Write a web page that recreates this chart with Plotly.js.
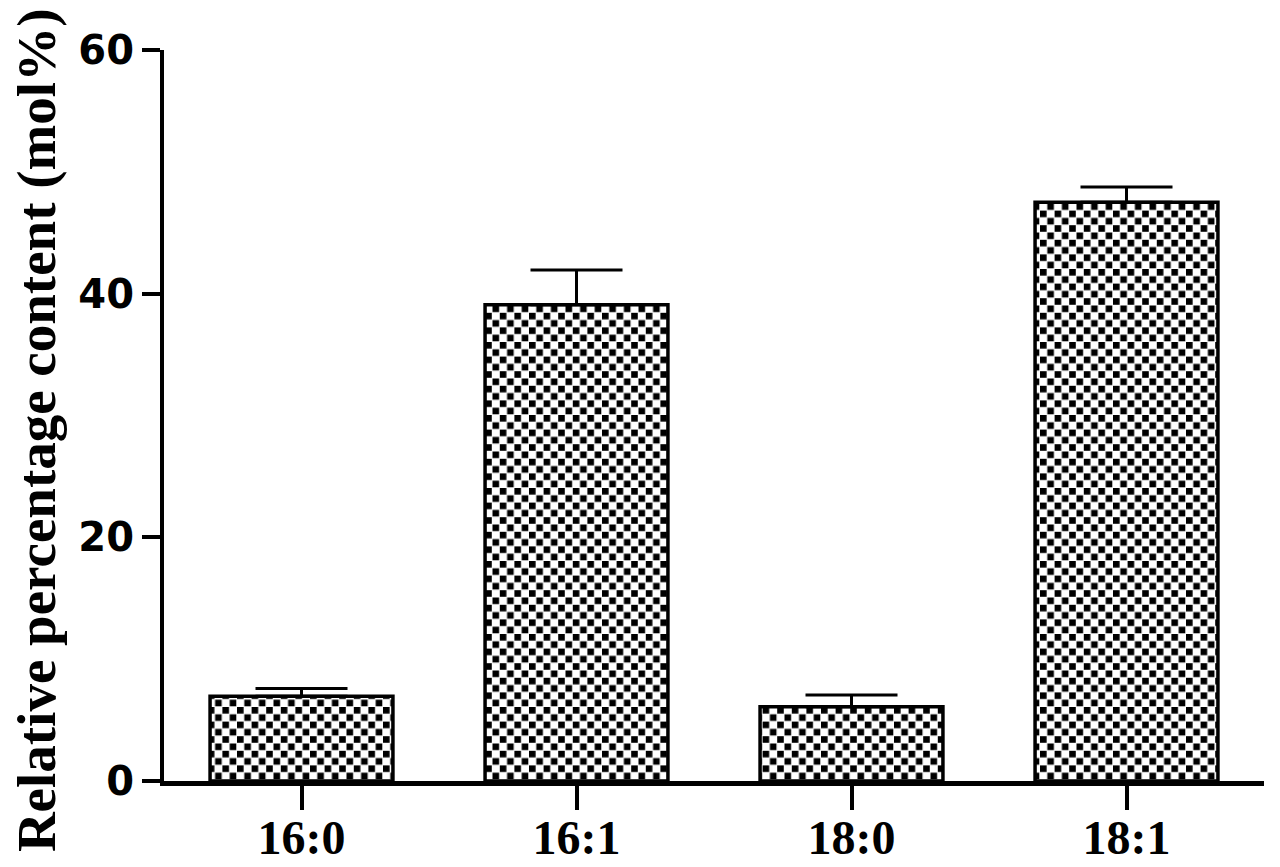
<!DOCTYPE html>
<html>
<head>
<meta charset="utf-8">
<script src="https://cdn.plot.ly/plotly-3.0.1.min.js"></script>
<style>html,body{margin:0;padding:0;background:#fff;}#chart{width:1280px;height:867px;}</style>
</head>
<body>
<div id="chart"></div>
<script>
const categories = ["16:0", "16:1", "18:0", "18:1"];
const values = [6.95, 39.1, 6.1, 47.5];
const errors = [0.65, 2.85, 0.95, 1.25];
const yTicks = [0, 20, 40, 60];
const yTitle = "Relative percentage content (mol%)";

const trace = {
  type: "bar",
  x: categories,
  y: values,
  marker: { color: "#ffffff", line: { color: "#000000", width: 3.5 } },
  error_y: {
    type: "data",
    symmetric: false,
    array: errors,
    arrayminus: errors.map(() => 0),
    color: "#000000",
    thickness: 3,
    width: 46
  },
  hoverinfo: "skip"
};

const layout = {
  width: 1280,
  height: 867,
  margin: { l: 164, r: 16, t: 50, b: 86 },
  paper_bgcolor: "#ffffff",
  plot_bgcolor: "#ffffff",
  bargap: 0.335,
  showlegend: false,
  xaxis: {
    type: "category",
    showline: true,
    linecolor: "#000",
    linewidth: 5,
    ticks: "outside",
    ticklen: 24,
    tickwidth: 4,
    tickcolor: "#000",
    showgrid: false,
    zeroline: false,
    ticklabelstandoff: -14,
    tickfont: { family: "Liberation Serif", size: 48, color: "#000", weight: "bold" }
  },
  yaxis: {
    range: [0, 60],
    tickvals: yTicks,
    ticktext: yTicks.map(String),
    showline: true,
    linecolor: "#000",
    linewidth: 4,
    ticks: "outside",
    ticklen: 18,
    tickwidth: 4,
    tickcolor: "#000",
    showgrid: false,
    zeroline: false,
    tickfont: { family: "DejaVu Sans", size: 40, color: "#000", weight: "bold" }
  },
  annotations: [{
    text: yTitle,
    xref: "paper", yref: "paper",
    x: 0, y: 0.48,
    xanchor: "center", yanchor: "middle",
    xshift: -128,
    textangle: -90,
    showarrow: false,
    font: { family: "Liberation Serif", size: 55, color: "#000", weight: "bold" }
  }]
};

Plotly.newPlot("chart", [trace], layout, { staticPlot: true }).then(function (gd) {
  const svgNS = "http://www.w3.org/2000/svg";
  const svg = gd.querySelector("svg.main-svg");
  let defs = svg.querySelector("defs");
  if (!defs) { defs = document.createElementNS(svgNS, "defs"); svg.insertBefore(defs, svg.firstChild); }
  const pat = document.createElementNS(svgNS, "pattern");
  pat.setAttribute("id", "chk");
  pat.setAttribute("patternUnits", "userSpaceOnUse");
  pat.setAttribute("width", "14.6");
  pat.setAttribute("height", "14.6");
  const bg = document.createElementNS(svgNS, "rect");
  bg.setAttribute("x", "0"); bg.setAttribute("y", "0");
  bg.setAttribute("width", "14.6"); bg.setAttribute("height", "14.6");
  bg.setAttribute("fill", "#fff");
  pat.appendChild(bg);
  [[0, 0], [7.3, 7.3]].forEach(function (p) {
    const r = document.createElementNS(svgNS, "rect");
    r.setAttribute("x", p[0]); r.setAttribute("y", p[1]);
    r.setAttribute("width", "6.6"); r.setAttribute("height", "6.6");
    r.setAttribute("fill", "#000");
    pat.appendChild(r);
  });
  defs.appendChild(pat);
  gd.querySelectorAll(".barlayer .point path").forEach(function (p) {
    p.style.fill = "url(#chk)";
  });
});
</script>
</body>
</html>
